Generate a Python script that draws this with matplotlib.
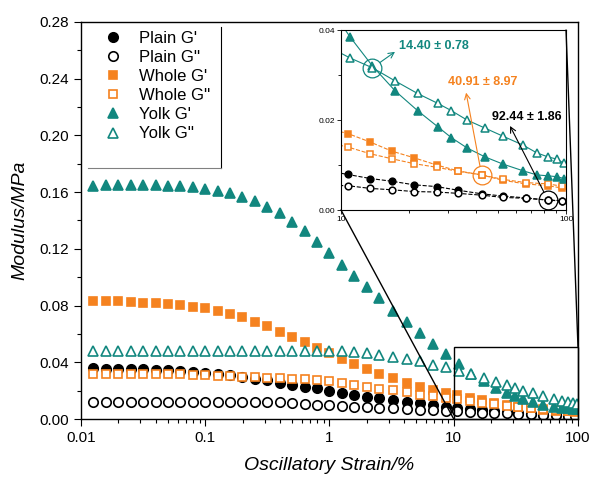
import matplotlib

matplotlib.use("Agg")
import matplotlib.pyplot as plt
from matplotlib.lines import Line2D
from matplotlib.patches import Rectangle, ConnectionPatch
from matplotlib.ticker import FixedLocator, LogLocator, MultipleLocator, NullFormatter

plt.rcParams["font.family"] = ["Liberation Sans", "DejaVu Sans"]

TEAL = "#12877f"
ORANGE = "#f5821f"

# strain sweep (%) -- plain and whole egg share one grid, yolk has its own tail
strain_pw = [0.01259, 0.01585, 0.01995, 0.02512, 0.03162, 0.03981, 0.05012, 0.0631, 0.07943, 0.1,
             0.1259, 0.1585, 0.1995, 0.2512, 0.3162, 0.3981, 0.5012, 0.631, 0.7943, 1.0,
             1.259, 1.585, 1.995, 2.512, 3.236, 4.169, 5.370, 6.761, 8.710,
             10.72, 13.49, 16.79, 21.13, 26.61, 33.11, 42.17, 52.48, 66.07, 83.18, 95.50]
strain_yolk = [0.01259, 0.01585, 0.01995, 0.02512, 0.03162, 0.03981, 0.05012, 0.0631, 0.07943, 0.1,
               0.1259, 0.1585, 0.1995, 0.2512, 0.3162, 0.3981, 0.5012, 0.631, 0.7943, 1.0,
               1.259, 1.585, 1.995, 2.512, 3.236, 4.169, 5.370, 6.761, 8.710,
               10.96, 13.80, 17.38, 21.88, 26.92, 30.90, 36.31, 43.65, 52.48, 64.57, 74.13, 83.18,
               91.20, 97.72]

# moduli in MPa
plain_g1 = [0.0358, 0.0353, 0.0353, 0.0350, 0.0350, 0.0346, 0.0346, 0.0339, 0.0334, 0.0322,
            0.0317, 0.0310, 0.0299, 0.0285, 0.0272, 0.0256, 0.0242, 0.0228, 0.0216, 0.0200,
            0.0181, 0.0169, 0.0157, 0.0146, 0.0134, 0.0122, 0.0111, 0.0099, 0.0087,
            0.0079, 0.0070, 0.0064, 0.0056, 0.0052, 0.0044, 0.0036, 0.0031, 0.0027, 0.0022, 0.0020]
plain_g2 = [0.0122, 0.0122, 0.0122, 0.0122, 0.0122, 0.0122, 0.0122, 0.0122, 0.0122, 0.0122,
            0.0122, 0.0122, 0.0122, 0.0121, 0.0120, 0.0118, 0.0113, 0.0106, 0.0101, 0.0096,
            0.0090, 0.0086, 0.0082, 0.0079, 0.0075, 0.0069, 0.0064, 0.0060, 0.0055,
            0.0054, 0.0048, 0.0045, 0.0041, 0.0040, 0.0037, 0.0033, 0.0028, 0.0026, 0.0022, 0.0021]
whole_g1 = [0.0832, 0.0835, 0.0835, 0.0828, 0.0821, 0.0816, 0.0811, 0.0804, 0.0792, 0.0781,
            0.0764, 0.0741, 0.0717, 0.0686, 0.0656, 0.0616, 0.0581, 0.0545, 0.0499, 0.0463,
            0.0421, 0.0388, 0.0353, 0.0317, 0.0291, 0.0256, 0.0228, 0.0205, 0.0181,
            0.0170, 0.0151, 0.0131, 0.0116, 0.0100, 0.0087, 0.0078, 0.0066, 0.0058, 0.0054, 0.0049]
whole_g2 = [0.0317, 0.0317, 0.0317, 0.0317, 0.0317, 0.0317, 0.0317, 0.0317, 0.0312, 0.0310,
            0.0305, 0.0303, 0.0299, 0.0294, 0.0290, 0.0287, 0.0282, 0.0280, 0.0275, 0.0268,
            0.0256, 0.0242, 0.0228, 0.0213, 0.0203, 0.0187, 0.0171, 0.0160, 0.0150,
            0.0140, 0.0125, 0.0114, 0.0103, 0.0095, 0.0086, 0.0078, 0.0068, 0.0061, 0.0058, 0.0053]
yolk_g1 = [0.1644, 0.1651, 0.1651, 0.1651, 0.1651, 0.1651, 0.1646, 0.1644, 0.1635, 0.1620,
           0.1608, 0.1592, 0.1569, 0.1534, 0.1498, 0.1451, 0.1392, 0.1326, 0.1251, 0.1171,
           0.1086, 0.1009, 0.0929, 0.0852, 0.0764, 0.0686, 0.0606, 0.0530, 0.0458,
           0.0385, 0.0320, 0.0265, 0.0221, 0.0185, 0.0161, 0.0138, 0.0118, 0.0102, 0.0087,
           0.0078, 0.0076, 0.0074, 0.0070]
yolk_g2 = [0.0480, 0.0480, 0.0480, 0.0480, 0.0480, 0.0480, 0.0480, 0.0480, 0.0480, 0.0480,
           0.0480, 0.0480, 0.0480, 0.0480, 0.0480, 0.0480, 0.0480, 0.0480, 0.0480, 0.0480,
           0.0478, 0.0472, 0.0462, 0.0450, 0.0438, 0.0425, 0.0408, 0.0384, 0.0364,
           0.0338, 0.0316, 0.0287, 0.0259, 0.0237, 0.0221, 0.0200, 0.0182, 0.0164, 0.0144,
           0.0127, 0.0118, 0.0113, 0.0104]

# crossover strains (mean ± sd) and the index of the point they sit on
crossovers = [
    ("14.40 ± 0.78", strain_yolk, yolk_g2, 30, TEAL),
    ("40.91 ± 8.97", strain_pw, whole_g2, 35, ORANGE),
    ("92.44 ± 1.86", strain_pw, plain_g2, 38, "black"),
]

series = [
    ("Plain G'", strain_pw, plain_g1, "o", "black", True, "--"),
    ("Plain G''", strain_pw, plain_g2, "o", "black", False, "--"),
    ("Whole G'", strain_pw, whole_g1, "s", ORANGE, True, "--"),
    ("Whole G''", strain_pw, whole_g2, "s", ORANGE, False, "--"),
    ("Yolk G'", strain_yolk, yolk_g1, "^", TEAL, True, "-"),
    ("Yolk G''", strain_yolk, yolk_g2, "^", TEAL, False, "-"),
]
main_size = {"o": 6.8, "s": 6.2, "^": 7.4}
inset_size = {"o": 4.8, "s": 4.4, "^": 6.4}

fig = plt.figure(figsize=(5.95, 4.82), dpi=100)
ax = fig.add_axes([0.1361, 0.1307, 0.8353, 0.8237])

handles = []
for label, x, y, mk, col, filled, ls in series:
    face = col if filled else "white"
    h, = ax.plot(x, y, linestyle="none", marker=mk, markersize=main_size[mk],
                 markerfacecolor=face, markeredgecolor=col, markeredgewidth=1.2, label=label)
    handles.append(h)

ax.set_xscale("log")
ax.set_xlim(0.01, 100)
ax.set_ylim(0, 0.28)
ax.xaxis.set_major_locator(FixedLocator([0.01, 0.1, 1, 10, 100]))
ax.set_xticklabels(["0.01", "0.1", "1", "10", "100"])
ax.xaxis.set_minor_locator(LogLocator(base=10, subs=range(2, 10)))
ax.xaxis.set_minor_formatter(NullFormatter())
ax.yaxis.set_major_locator(MultipleLocator(0.04))
ax.yaxis.set_minor_locator(MultipleLocator(0.02))
ax.yaxis.set_major_formatter(plt.FormatStrFormatter("%.2f"))
ax.tick_params(which="major", direction="out", length=5, width=0.8, labelsize=11)
ax.tick_params(which="minor", direction="out", length=3, width=0.8)
for sp in ax.spines.values():
    sp.set_linewidth(1.0)
ax.set_xlabel("Oscillatory Strain/%", fontsize=14, fontstyle="italic", labelpad=9)
ax.set_ylabel("Modulus/MPa", fontsize=14, fontstyle="italic", labelpad=8)

leg = ax.legend(handles=handles, loc="upper left", bbox_to_anchor=(0.03, 0.995),
                frameon=False, fontsize=12, handlelength=1.2, handletextpad=1.0,
                labelspacing=0.25, borderaxespad=0.0)
# legend box: only right and bottom edges are drawn
ax.add_line(Line2D([0.2817, 0.2817], [0.632, 0.987], transform=ax.transAxes,
                   color="black", lw=0.8))
ax.add_line(Line2D([0.014, 0.2817], [0.632, 0.632], transform=ax.transAxes,
                   color="0.5", lw=0.8))

# zoom window on the main plot
zoom_top = 0.051
ax.add_patch(Rectangle((10, 0), 90, zoom_top, fill=False, edgecolor="black", lw=1.0,
                       zorder=4, clip_on=False))

# inset: 10-100 % strain
axins = fig.add_axes([0.5731, 0.5643, 0.3782, 0.3734])
axins.set_facecolor("white")
for label, x, y, mk, col, filled, ls in series:
    face = col if filled else "white"
    axins.plot(x, y, linestyle=ls, lw=0.8, color=col, marker=mk, markersize=inset_size[mk],
               markerfacecolor=face, markeredgecolor=col, markeredgewidth=1.1)
axins.set_xscale("log")
axins.set_xlim(10, 100)
axins.set_ylim(0, 0.04)
axins.xaxis.set_major_locator(FixedLocator([10, 100]))
axins.set_xticklabels(["10", "100"])
axins.xaxis.set_minor_locator(LogLocator(base=10, subs=range(2, 10)))
axins.xaxis.set_minor_formatter(NullFormatter())
axins.yaxis.set_major_locator(MultipleLocator(0.02))
axins.yaxis.set_minor_locator(MultipleLocator(0.01))
axins.yaxis.set_major_formatter(plt.FormatStrFormatter("%.2f"))
axins.tick_params(which="major", direction="out", length=3, width=0.6, labelsize=6, pad=1)
axins.tick_params(which="minor", direction="out", length=2, width=0.6)
for sp in axins.spines.values():
    sp.set_linewidth(0.8)

# crossover markers, values and arrows
label_pos = [(0.258, 0.911), (0.476, 0.713), (0.671, 0.517)]
arrow_head = [(0.24, 0.879), (0.556, 0.652), (0.751, 0.467)]
for (txt, x, y, i, col), tpos, head in zip(crossovers, label_pos, arrow_head):
    axins.plot(x[i], y[i], marker="o", markersize=13.5, markerfacecolor="none",
               markeredgecolor=col, markeredgewidth=0.9, linestyle="none")
    axins.annotate("", xy=head, xycoords="axes fraction", xytext=(x[i], y[i]),
                   textcoords="data",
                   arrowprops=dict(arrowstyle="->", color=col, lw=0.8, shrinkA=6.5, shrinkB=0))
    axins.text(tpos[0], tpos[1], txt, transform=axins.transAxes, color=col,
               fontsize=9, fontweight="bold", va="center", ha="left")

# lines joining the zoom window to the inset
for a, b in [((0, 0), (10, 0)), ((1, 1), (100, zoom_top))]:
    con = ConnectionPatch(xyA=a, coordsA=axins.transAxes, xyB=b, coordsB=ax.transData,
                          color="black", lw=1.0)
    fig.add_artist(con)

fig.savefig("out.png", dpi=100)
plt.close(fig)
